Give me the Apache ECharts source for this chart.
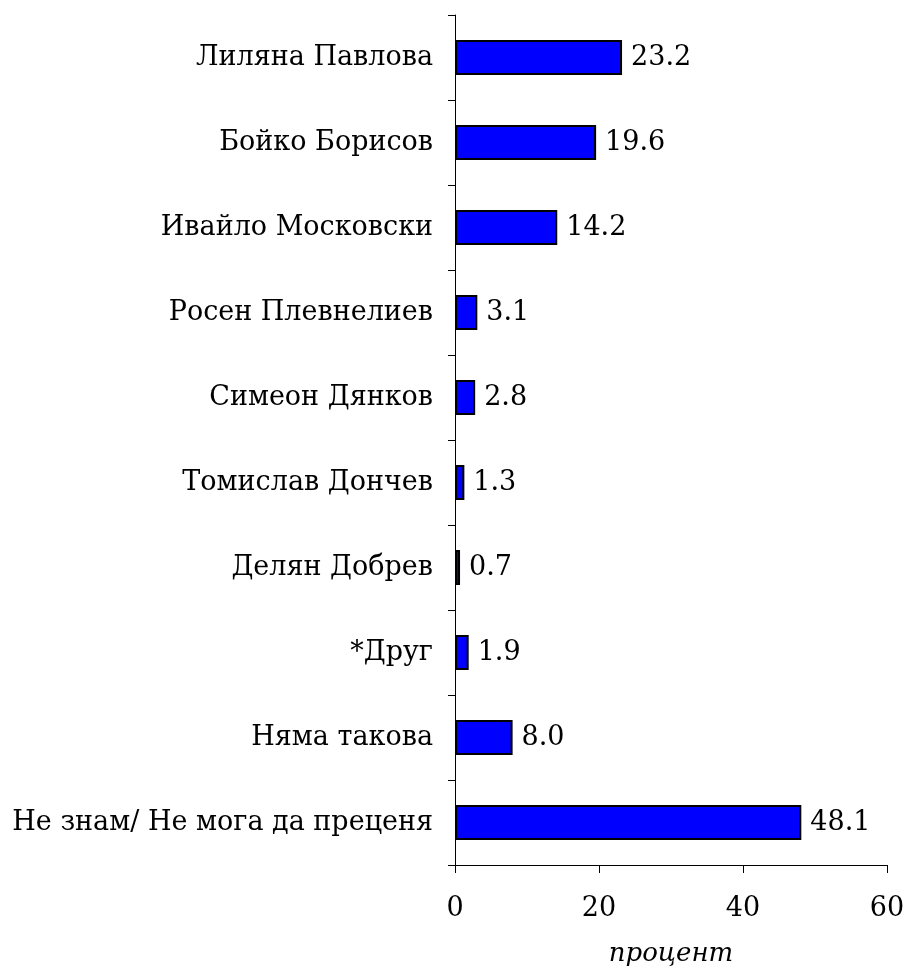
<!DOCTYPE html>
<html>
<head>
<meta charset="utf-8">
<script src="https://cdn.jsdelivr.net/npm/echarts@6/dist/echarts.min.js"></script>
<style>
  html, body { margin: 0; padding: 0; background: #fff; }
  #chart { width: 906px; height: 968px; }
</style>
</head>
<body>
<div id="chart"></div>
<script>
const categories = [
  'Лиляна Павлова',
  'Бойко Борисов',
  'Ивайло Московски',
  'Росен Плевнелиев',
  'Симеон Дянков',
  'Томислав Дончев',
  'Делян Добрев',
  '*Друг',
  'Няма такова',
  'Не знам/ Не мога да преценя'
]
const values = [23.2, 19.6, 14.2, 3.1, 2.8, 1.3, 0.7, 1.9, 8.0, 48.1]

const fontFamily = 'DejaVu Serif'
var myChart = echarts.init(document.getElementById('chart'))

var option = {
  animation: false,
  textStyle: { fontFamily: fontFamily },
  grid: { left: 455, right: 19, top: 15, bottom: 103, outerBoundsMode: 'none' },
  xAxis: {
    type: 'value',
    min: 0,
    max: 60,
    interval: 20,
    name: 'процент',
    nameLocation: 'middle',
    nameGap: 76,
    nameTextStyle: { fontFamily: fontFamily, fontStyle: 'italic', fontSize: 26, color: '#000' },
    axisLine: { show: true, lineStyle: { color: '#000', width: 1 } },
    axisTick: { show: true, length: 8, lineStyle: { color: '#000' } },
    axisLabel: { margin: 30, fontSize: 27, color: '#000', fontFamily: fontFamily },
    splitLine: { show: false }
  },
  yAxis: {
    type: 'category',
    inverse: true,
    data: categories,
    axisLine: { show: true, lineStyle: { color: '#000', width: 1 } },
    axisTick: { show: true, length: 7, lineStyle: { color: '#000' } },
    axisLabel: { margin: 22, fontSize: 27, color: '#000', fontFamily: fontFamily }
  },
  series: [
    {
      type: 'bar',
      data: values,
      barWidth: 35,
      itemStyle: { color: '#0000ff', borderColor: '#000', borderWidth: 2 },
      label: {
        show: true,
        position: 'right',
        distance: 9,
        fontSize: 27,
        color: '#000',
        fontFamily: fontFamily,
        formatter: function (p) { return p.value.toFixed(1) }
      }
    }
  ]
}

option && myChart.setOption(option)
</script>
</body>
</html>
